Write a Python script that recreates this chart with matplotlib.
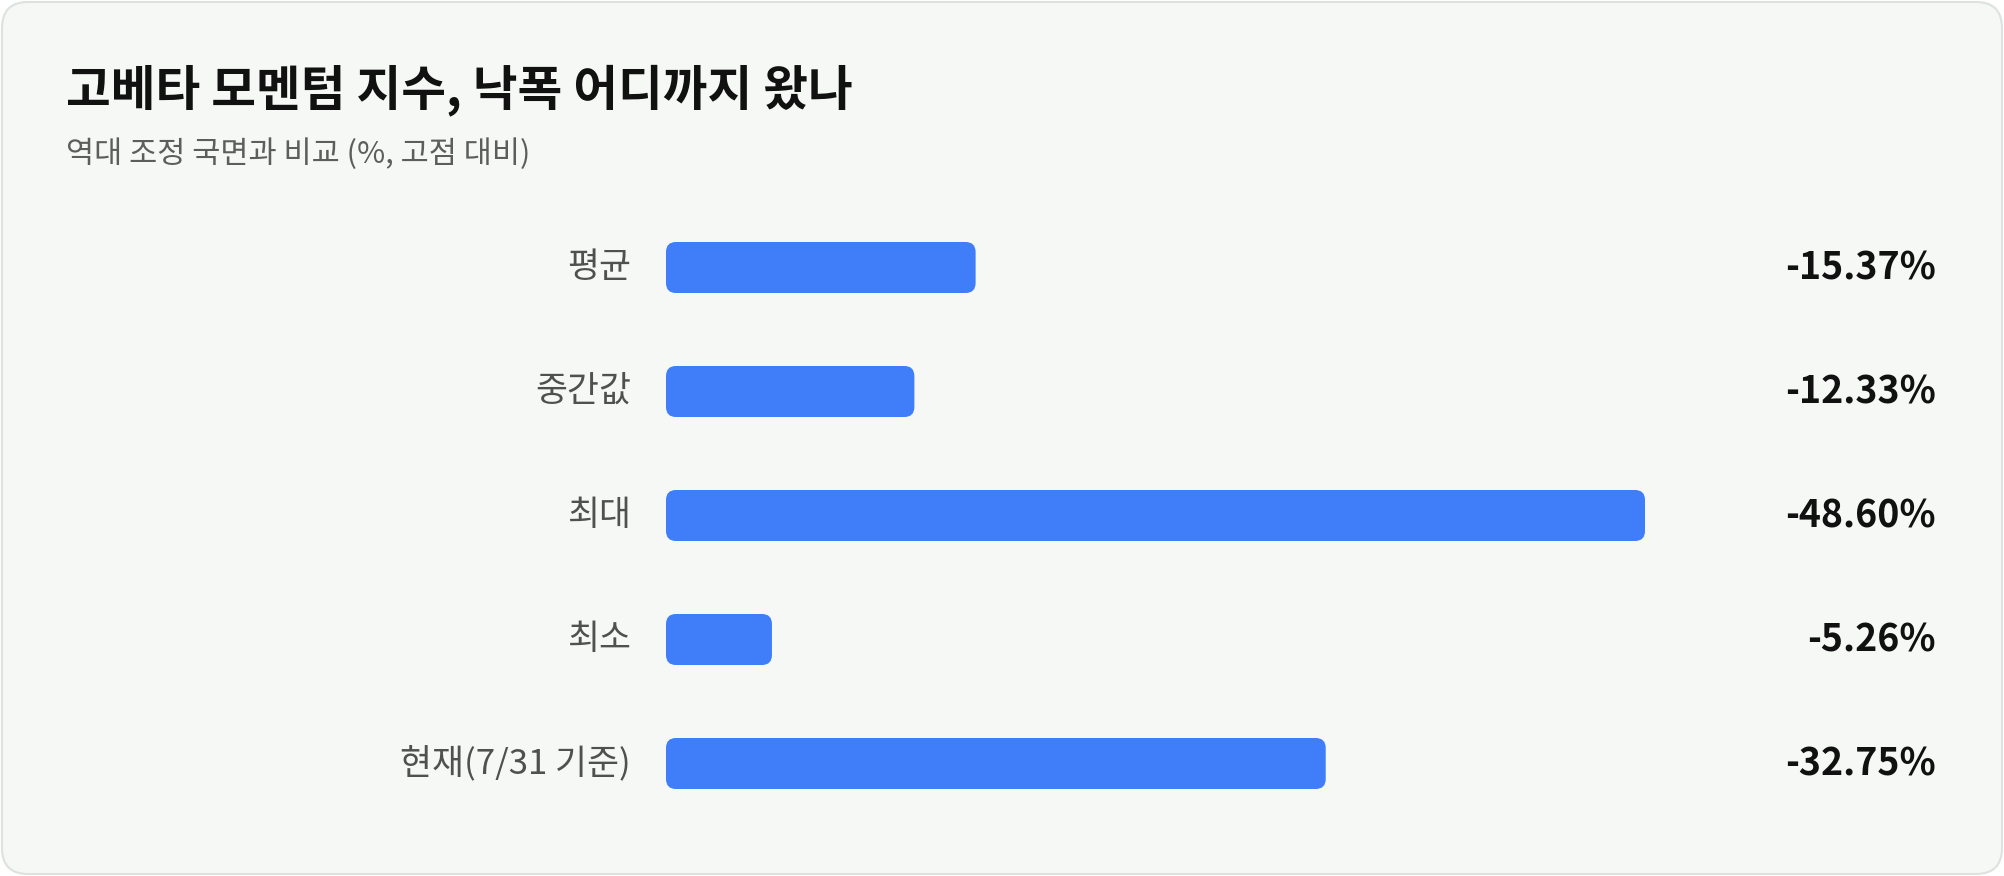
import matplotlib
matplotlib.use("Agg")
import matplotlib.pyplot as plt
from matplotlib.patches import FancyBboxPatch

plt.rcParams['font.family'] = ['Noto Sans CJK KR', 'DejaVu Sans']

# 데이터
categories = ['평균', '중간값', '최대', '최소', '현재(7/31 기준)']
drawdown = [15.37, 12.33, 48.60, 5.26, 32.75]
value_labels = ['-15.37%', '-12.33%', '-48.60%', '-5.26%', '-32.75%']

title = '고베타 모멘텀 지수, 낙폭 어디까지 왔나'
subtitle = '역대 조정 국면과 비교 (%, 고점 대비)'

W, H = 2004, 876
BAR_COLOR = '#3f7df9'

fig = plt.figure(figsize=(W / 100, H / 100), dpi=100)
fig.patch.set_facecolor('white')

# 카드 배경 (픽셀 좌표용 축)
bg = fig.add_axes([0, 0, 1, 1])
bg.set_xlim(0, W)
bg.set_ylim(H, 0)
bg.axis('off')
card = FancyBboxPatch((2, 2), W - 4, H - 4,
                      boxstyle='round,pad=0,rounding_size=26',
                      facecolor='#f6f8f6', edgecolor='#dce2dd', linewidth=1.5)
bg.add_patch(card)
bg.text(66, 105, title, fontsize=35, fontweight='bold', color='#111111',
        va='baseline', ha='left')
bg.text(66, 163, subtitle, fontsize=22, color='#5a5f5c',
        va='baseline', ha='left')

# 막대 축: 0 -> x=666px, 48.6 -> x=1645px, 중심 간격 124px
x0, x1 = 666, 1645
step = 124
y_first = 267.5
n = len(categories)
top_px = y_first - step / 2
bottom_px = top_px + step * n
ax = fig.add_axes([x0 / W, 1 - bottom_px / H, (x1 - x0) / W, (bottom_px - top_px) / H])
ax.set_xlim(0, max(drawdown))
ax.set_ylim(n - 0.5, -0.5)
ax.axis('off')

bar_h = 51 / step
px_per_x = (x1 - x0) / max(drawdown)
radius = 10 / px_per_x
aspect = px_per_x / step

for i, (cat, v, lab) in enumerate(zip(categories, drawdown, value_labels)):
    p = FancyBboxPatch((0, i - bar_h / 2), v, bar_h,
                       boxstyle='round,pad=0,rounding_size=%f' % radius,
                       mutation_aspect=aspect,
                       facecolor=BAR_COLOR, edgecolor='none')
    ax.add_patch(p)
    ax.annotate(cat, xy=(0, i), xytext=(-35, 0), textcoords='offset pixels',
                ha='right', va='center', fontsize=25, color='#4d524f',
                annotation_clip=False)
    ax.annotate(lab, xy=(0, i), xycoords=('figure pixels', 'data'),
                xytext=(1936, 0), textcoords=('figure pixels', 'offset pixels'),
                ha='right', va='center', fontsize=27, fontweight='bold',
                color='#111111', annotation_clip=False)

fig.savefig('out.png', dpi=100, facecolor=fig.get_facecolor())
